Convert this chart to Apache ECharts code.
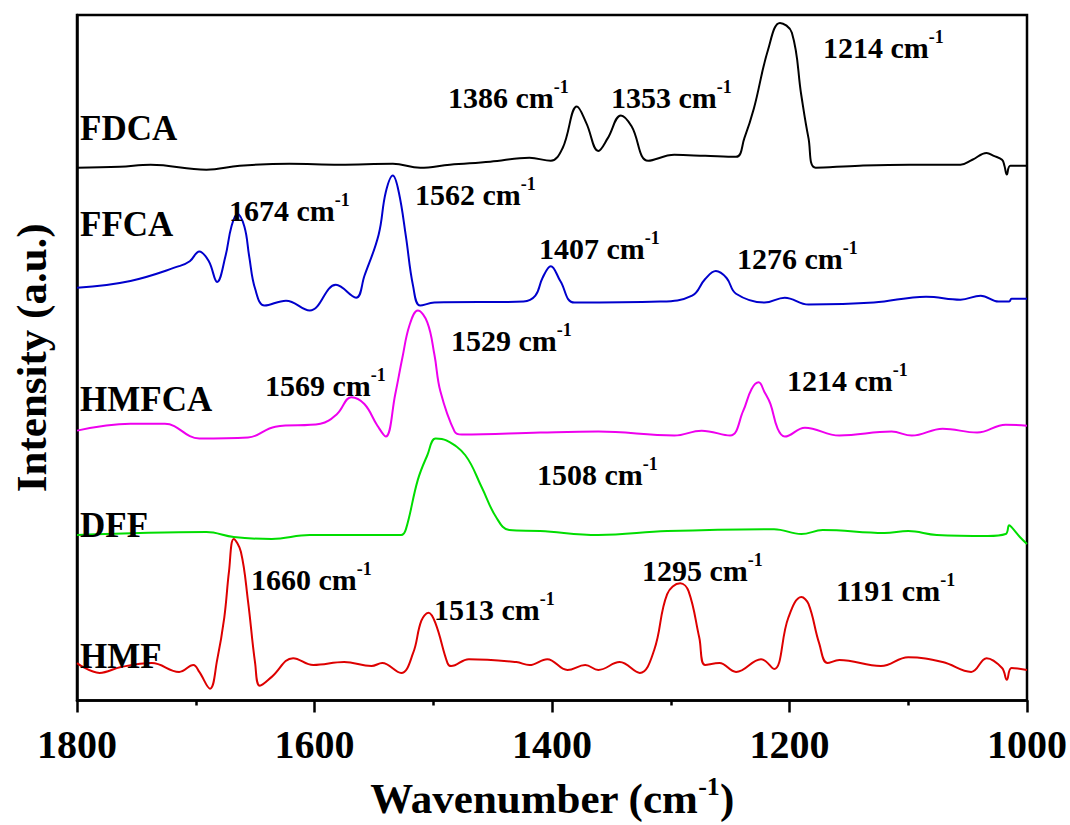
<!DOCTYPE html>
<html><head><meta charset="utf-8">
<script src="https://cdn.jsdelivr.net/npm/echarts@6/dist/echarts.min.js"></script>
<style>html,body{margin:0;padding:0;background:#fff}#c{width:1070px;height:825px}</style>
</head><body><div id="c"></div>
<script>
// ---- data: [wavenumber (cm-1), intensity (a.u., offset stacked)] ----
const xTickValues = [1800, 1600, 1400, 1200, 1000];
const seriesNames = ['FDCA', 'FFCA', 'HMFCA', 'DFF', 'HMF'];

const fdca = [[1800,541],[1764,542],[1738,544],[1691,539],[1663,543],[1621,545],[1579,544],[1534,545],[1511,541],[1486,544],[1452,547],[1419,551],[1401,548],[1391,561],[1379,603],[1371,586],[1361,558],[1353,571],[1342,594],[1333,583],[1319,548],[1297,554],[1271,553],[1245,552],[1238,571],[1230,601],[1218,661],[1208,688],[1198,678],[1190,614],[1184,571],[1178,541],[1141,543],[1099,544],[1056,544],[1046,549],[1034,556],[1028,553],[1021,549],[1019,543],[1017,534],[1014,543],[1000,543]];

const ffca = [[1800,419],[1755,426],[1714,441],[1705,446],[1697,456],[1689,446],[1682,425],[1675,451],[1670,481],[1665,494],[1659,481],[1655,451],[1650,418],[1642,401],[1624,406],[1604,396],[1582,422],[1565,409],[1558,431],[1546,473],[1540,516],[1534,533],[1529,516],[1523,471],[1517,421],[1511,401],[1499,404],[1424,405],[1414,411],[1408,429],[1401,441],[1393,426],[1381,404],[1309,405],[1282,411],[1271,428],[1262,436],[1253,429],[1245,413],[1221,404],[1204,409],[1184,402],[1129,404],[1085,410],[1056,407],[1039,411],[1024,405],[1015,405],[1013,408],[1000,408]];

const hmfca = [[1800,274],[1755,281],[1726,281],[1697,266],[1656,267],[1633,278],[1595,281],[1581,291],[1569,308],[1558,301],[1547,279],[1540,268],[1532,311],[1526,348],[1520,381],[1513,396],[1505,384],[1499,351],[1494,314],[1482,273],[1476,270],[1410,272],[1361,273],[1297,269],[1274,274],[1250,269],[1239,294],[1232,316],[1226,323],[1221,313],[1216,301],[1210,276],[1204,268],[1187,277],[1158,269],[1114,273],[1097,269],[1071,276],[1042,272],[1018,280],[1000,279]];

const dff = [[1800,168],[1691,171],[1668,166],[1636,164],[1604,168],[1527,168],[1523,174],[1513,224],[1505,249],[1498,266],[1489,264],[1473,249],[1459,216],[1447,186],[1436,173],[1410,172],[1361,168],[1303,172],[1213,174],[1190,169],[1172,173],[1120,170],[1100,172],[1076,168],[1033,167],[1018,169],[1015,178],[1013,176],[1006,166],[1000,159]];

const hmf = [[1800,38],[1781,28],[1763,34],[1737,38],[1714,29],[1702,36],[1697,29],[1688,12],[1682,41],[1676,84],[1672,131],[1668,164],[1662,151],[1656,101],[1650,38],[1646,15],[1636,24],[1618,43],[1601,36],[1575,39],[1552,35],[1543,38],[1527,28],[1517,48],[1510,81],[1504,89],[1498,78],[1488,38],[1485,35],[1470,42],[1430,39],[1419,36],[1404,42],[1387,31],[1372,36],[1361,31],[1343,39],[1326,28],[1314,51],[1303,108],[1292,119],[1285,111],[1276,64],[1271,36],[1259,38],[1245,29],[1224,42],[1213,32],[1201,84],[1190,105],[1184,98],[1175,58],[1168,38],[1158,41],[1123,35],[1100,44],[1071,39],[1047,29],[1034,43],[1021,33],[1017,21],[1013,33],[1000,31]];

const peakLabelTexts = ['1386','1353','1214','1674','1562','1407','1276','1529','1569','1214','1508','1660','1513','1295','1191'];

// ---- layout / style (not data) ----
const FONT = '"Liberation Serif", "Times New Roman", serif';
const seriesColors = ['#000000', '#0000cc', '#ee00ee', '#00dd00', '#dd0000'];
const seriesData = [fdca, ffca, hmfca, dff, hmf];
const nameLabelPos = [[80,128],[80,224],[80,399],[80,525],[80,656]];
const peakLabelPos = [[448,97],[611,97],[823,47],[229,210],[415,194],[539,248],[737,258],[451,340],[265,385],[787,380],[537,474],[251,579],[434,609],[642,570],[836,590]];

const chart = echarts.init(document.getElementById('c'), null, {renderer: 'svg', width: 1070, height: 825});

const graphics = [];
seriesNames.forEach((n, i) => {
  graphics.push({
    type: 'text', x: nameLabelPos[i][0], y: nameLabelPos[i][1], z: 100,
    style: {text: n, fill: '#000', font: 'bold 35px ' + FONT,
      align: 'left', verticalAlign: 'middle', textAlign: 'left', textVerticalAlign: 'middle'}
  });
});
peakLabelTexts.forEach((t, i) => {
  graphics.push({
    type: 'text', x: peakLabelPos[i][0], y: peakLabelPos[i][1], z: 100,
    style: {
      text: '{n|' + t + ' cm}{s|-1}', fill: '#000',
      align: 'left', verticalAlign: 'middle', textAlign: 'left', textVerticalAlign: 'middle',
      rich: {
        n: {fontFamily: FONT, fontWeight: 'bold', fontSize: 30, fill: '#000', color: '#000'},
        s: {fontFamily: FONT, fontWeight: 'bold', fontSize: 18, fill: '#000', color: '#000', padding: [0, 0, 20, 0]}
      }
    }
  });
});

const option = {
  backgroundColor: '#ffffff',
  animation: false,
  grid: {left: 77, right: 43, top: 15, bottom: 114, show: true, borderColor: '#000', borderWidth: 2.5, backgroundColor: 'transparent'},
  xAxis: {
    type: 'value', min: 1000, max: 1800, interval: 200, inverse: true,
    axisLine: {show: true, onZero: false, lineStyle: {color: '#000', width: 2.5}},
    axisTick: {show: true, inside: false, length: 12, lineStyle: {color: '#000', width: 2.5}},
    minorTick: {show: true, splitNumber: 2, length: 5, lineStyle: {color: '#000', width: 2.5}},
    splitLine: {show: false},
    axisLabel: {color: '#000', fontFamily: FONT, fontWeight: 'bold', fontSize: 40, margin: 24,
      formatter: v => xTickValues.includes(v) ? String(v) : ''},
    name: '{a|Wavenumber (cm}{s|-1}{a|)}',
    nameLocation: 'middle', nameGap: 73,
    nameTextStyle: {
      rich: {
        a: {fontFamily: FONT, fontWeight: 'bold', fontSize: 43, color: '#000'},
        s: {fontFamily: FONT, fontWeight: 'bold', fontSize: 26, color: '#000', padding: [0, 0, 24, 0]}
      }
    }
  },
  yAxis: {
    type: 'value', min: 0, max: 696,
    axisLine: {show: true, lineStyle: {color: '#000', width: 2.5}},
    axisTick: {show: false}, axisLabel: {show: false}, splitLine: {show: false},
    name: 'Intensity (a.u.)', nameLocation: 'middle', nameGap: 24, nameRotate: 90,
    nameTextStyle: {fontFamily: FONT, fontWeight: 'bold', fontSize: 43, color: '#000'}
  },
  graphic: {elements: graphics},
  series: seriesNames.map((n, i) => ({
    name: n, type: 'line', data: seriesData[i], showSymbol: false, symbol: 'none',
    smooth: 0.4,
    lineStyle: {color: seriesColors[i], width: 2},
    itemStyle: {color: seriesColors[i]}
  }))
};
chart.setOption(option);
</script>
</body></html>
